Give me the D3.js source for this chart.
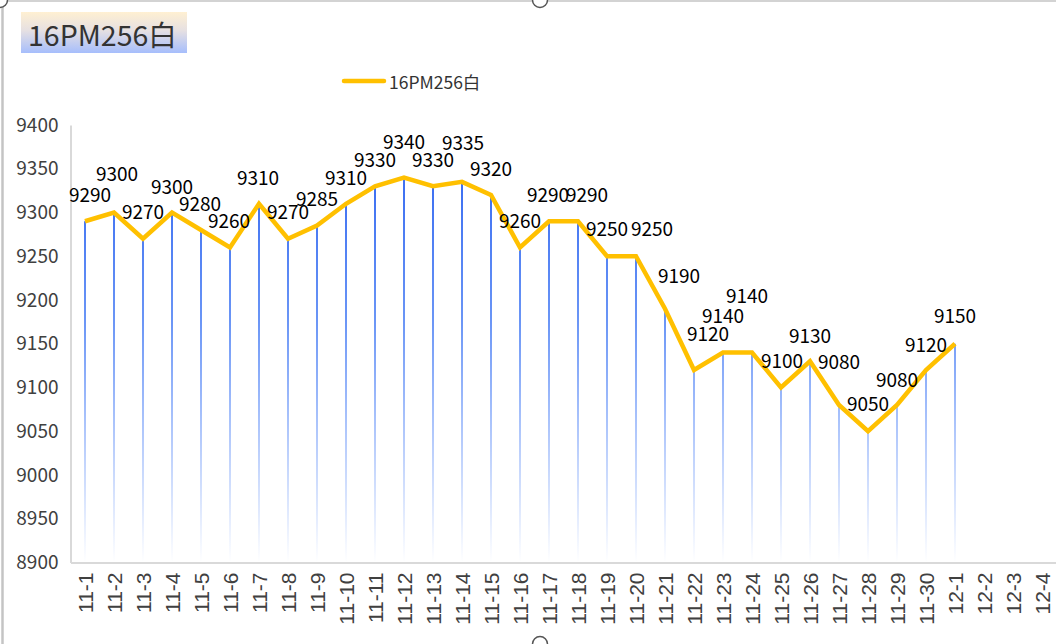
<!DOCTYPE html>
<html>
<head>
<meta charset="utf-8">
<script src="https://cdn.jsdelivr.net/npm/d3@7/dist/d3.min.js"></script>
<style>
  html, body { margin: 0; padding: 0; background: #fff; }
  svg { display: block; }
</style>
</head>
<body>
<script>
// ---------- data ----------
const chartTitle = "16PM256白";
const seriesName = "16PM256白";
const categories = [
  "11-1","11-2","11-3","11-4","11-5","11-6","11-7","11-8","11-9","11-10",
  "11-11","11-12","11-13","11-14","11-15","11-16","11-17","11-18","11-19","11-20",
  "11-21","11-22","11-23","11-24","11-25","11-26","11-27","11-28","11-29","11-30",
  "12-1","12-2","12-3","12-4"
];
const prices = [
  9290, 9300, 9270, 9300, 9280, 9260, 9310, 9270, 9285, 9310,
  9330, 9340, 9330, 9335, 9320, 9260, 9290, 9290, 9250, 9250,
  9190, 9120, 9140, 9140, 9100, 9130, 9080, 9050, 9080, 9120,
  9150
];
const yTicks = [8900, 8950, 9000, 9050, 9100, 9150, 9200, 9250, 9300, 9350, 9400];

// label placement offsets (layout only), relative to each point
const labelDx = [5,3,0,0,-1,-1,-1,0,0,0, 0,0,0,1,0,0,-1,9,0,16, 14,14,0,-5,1,0,0,0,0,0, 0];
const labelDy = [-28,-40,-28,-27,-28,-28,-27,-28,-28,-27, -28,-37,-28,-40,-28,-28,-28,-28,-29,-29, -34,-38,-38,-58,-28,-27,-45,-28.5,-27,-27, -29];

// ---------- layout ----------
const W = 1056, H = 644;
const plot = { left: 70.5, right: 1056.5, top: 125, bottom: 562.5 };

const svg = d3.select("body").append("svg").attr("width", W).attr("height", H);
const defs = svg.append("defs");

const titleGrad = defs.append("linearGradient").attr("id", "titleGrad")
  .attr("x1", 0).attr("y1", 0).attr("x2", 0).attr("y2", 1);
titleGrad.append("stop").attr("offset", "0%").attr("stop-color", "#fff0d2");
titleGrad.append("stop").attr("offset", "45%").attr("stop-color", "#e6e0e2");
titleGrad.append("stop").attr("offset", "100%").attr("stop-color", "#a6befc");

const dropGrad = defs.append("linearGradient").attr("id", "dropGrad")
  .attr("gradientUnits", "userSpaceOnUse")
  .attr("x1", 0).attr("y1", 190).attr("x2", 0).attr("y2", plot.bottom);
dropGrad.append("stop").attr("offset", "0%").attr("stop-color", "#3f71f2");
dropGrad.append("stop").attr("offset", "35%").attr("stop-color", "#6a95f6");
dropGrad.append("stop").attr("offset", "58%").attr("stop-color", "#a0bcfb");
dropGrad.append("stop").attr("offset", "100%").attr("stop-color", "#ffffff");

// frame + handles
svg.append("line").attr("x1", 0).attr("x2", W).attr("y1", 1).attr("y2", 1)
  .attr("stroke", "#c4c4c4").attr("stroke-width", 1.5);
svg.append("line").attr("x1", 2.5).attr("x2", 2.5).attr("y1", 0).attr("y2", H)
  .attr("stroke", "#c4c4c4").attr("stroke-width", 2.5);
[[540, 0], [540, H], [0, 0]].forEach(([cx, cy]) => {
  svg.append("circle").attr("cx", cx).attr("cy", cy).attr("r", 7.5)
    .attr("fill", "#fff").attr("stroke", "#555").attr("stroke-width", 1.5);
});

// scales
const x = d3.scaleBand().domain(categories).range([plot.left, plot.right]).padding(0);
const y = d3.scaleLinear().domain([8900, 9400]).range([plot.bottom, plot.top]);
const cx = d => x(d) + x.bandwidth() / 2;

// title
svg.append("rect").attr("x", 21).attr("y", 12).attr("width", 166).attr("height", 41)
  .attr("fill", "url(#titleGrad)");
svg.append("text").attr("x", 28).attr("y", 33).attr("dominant-baseline", "central")
  .attr("font-family", "'Noto Sans CJK SC', 'Noto Sans', sans-serif")
  .attr("font-size", 28.5).attr("fill", "#333")
  .text(chartTitle);

// legend
svg.append("line").attr("x1", 344).attr("x2", 384).attr("y1", 81).attr("y2", 81)
  .attr("stroke", "#FFC000").attr("stroke-width", 4.5).attr("stroke-linecap", "round");
svg.append("text").attr("x", 389).attr("y", 81).attr("dominant-baseline", "central")
  .attr("font-family", "'Noto Sans CJK SC', 'Noto Sans', sans-serif")
  .attr("font-size", 17.5).attr("fill", "#333")
  .text(seriesName);

// y axis
const yAxis = d3.axisLeft(y).tickValues(yTicks).tickFormat(d3.format("d")).tickSize(0).tickPadding(12);
const gy = svg.append("g").attr("transform", `translate(${plot.left},0)`).call(yAxis);
gy.select(".domain").attr("stroke", "#d9d9d9").attr("stroke-width", 2);
gy.selectAll("text")
  .attr("font-family", "'Noto Sans CJK SC', 'Noto Sans', sans-serif")
  .attr("font-size", 19).attr("fill", "#404040");

// x axis
const xAxis = d3.axisBottom(x).tickSize(0).tickPadding(10);
const gx = svg.append("g").attr("transform", `translate(0,${plot.bottom})`).call(xAxis);
gx.select(".domain").attr("stroke", "#d9d9d9").attr("stroke-width", 2);
gx.selectAll("text")
  .style("font-family", "'Liberation Sans', Arial, sans-serif")
  .style("font-size", "21px").attr("fill", "#404040")
  .attr("text-anchor", "end")
  .attr("dy", null)
  .attr("dominant-baseline", "central")
  .attr("transform", "rotate(-90)")
  .attr("y", 0).attr("x", -10);

// data points
const pts = prices.map((v, i) => ({ cat: categories[i], v, i }));

// drop lines
svg.append("g").selectAll("line").data(pts).join("line")
  .attr("x1", d => cx(d.cat)).attr("x2", d => cx(d.cat))
  .attr("y1", d => y(d.v)).attr("y2", plot.bottom - 1)
  .attr("stroke", "url(#dropGrad)").attr("stroke-width", 2);

// price line
const line = d3.line().x(d => cx(d.cat)).y(d => y(d.v));
svg.append("path").datum(pts).attr("d", line)
  .attr("fill", "none").attr("stroke", "#FFC000").attr("stroke-width", 4.5)
  .attr("stroke-linejoin", "miter");

// labels
svg.append("g").selectAll("text").data(pts).join("text")
  .attr("x", d => cx(d.cat) + labelDx[d.i])
  .attr("y", d => y(d.v) + labelDy[d.i])
  .attr("text-anchor", "middle").attr("dominant-baseline", "central")
  .attr("font-family", "'Noto Sans CJK SC', 'Noto Sans', sans-serif")
  .attr("font-size", 19).attr("fill", "#000")
  .text(d => d.v);
</script>
</body>
</html>
